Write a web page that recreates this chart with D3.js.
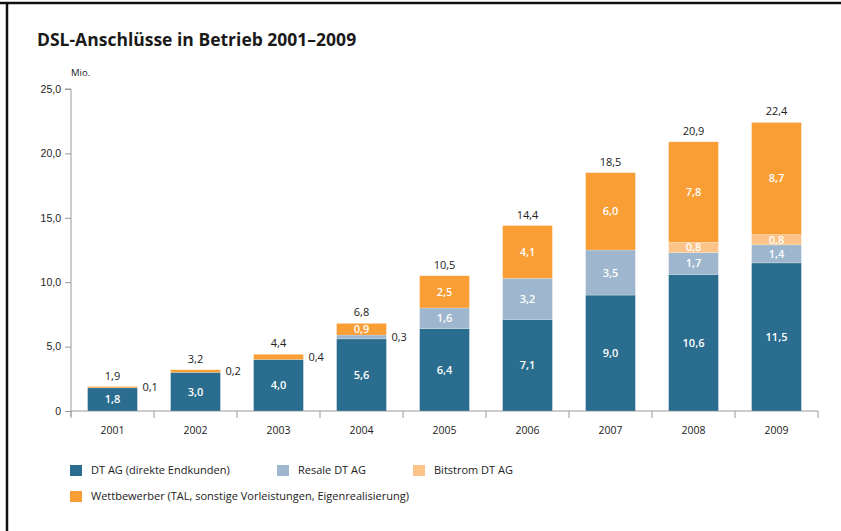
<!DOCTYPE html>
<html><head><meta charset="utf-8">
<script src="https://cdn.jsdelivr.net/npm/d3@7"></script>
<style>
html,body{margin:0;padding:0;background:#fff;}
svg{display:block;font-family:"Open Sans","Noto Sans",sans-serif;}
</style></head>
<body><svg id="c" width="841" height="531"></svg>
<script>
const years = ["2001","2002","2003","2004","2005","2006","2007","2008","2009"];
const dtag = [1.8,3.0,4.0,5.6,6.4,7.1,9.0,10.6,11.5];
const resale = [0,0,0,0.3,1.6,3.2,3.5,1.7,1.4];
const bitstrom = [0,0,0,0,0,0,0,0.8,0.8];
const wettbewerber = [0.1,0.2,0.4,0.9,2.5,4.1,6.0,7.8,8.7];
const totals = [1.9,3.2,4.4,6.8,10.5,14.4,18.5,20.9,22.4];
const seriesNames = ["DT AG (direkte Endkunden)","Resale DT AG","Bitstrom DT AG","Wettbewerber (TAL, sonstige Vorleistungen, Eigenrealisierung)"];
const seriesKeys = ["dtag","resale","bitstrom","wett"];
const colors = ["#2a6d8e","#9eb7ce","#fdc48a","#f99d35"];
const yTicks = [0,5,10,15,20,25];

const fmt = v => v===0 ? "0" : d3.format(".1f")(v).replace(".",",");
const svg = d3.select("#c");

// frame
svg.append("line").attr("x1",0).attr("x2",841).attr("y1",3).attr("y2",3).attr("stroke","#111").attr("stroke-width",2.5);
svg.append("line").attr("x1",7).attr("x2",7).attr("y1",2).attr("y2",531).attr("stroke","#111").attr("stroke-width",2.5);

svg.append("text").attr("x",37).attr("y",46).attr("font-size",17.5).attr("font-weight","bold").attr("fill","#1a1a1a")
  .text("DSL-Anschlüsse in Betrieb 2001–2009");

const x0 = 71, x1 = 818, yTop = 89, yBot = 411;
const x = d3.scaleBand().domain(years).range([x0,x1]).paddingInner(0.4).paddingOuter(0.2);
const y = d3.scaleLinear().domain([0,25]).range([yBot,yTop]);

const data = years.map((yr,i)=>({year:yr,dtag:dtag[i],resale:resale[i],bitstrom:bitstrom[i],wett:wettbewerber[i],total:totals[i]}));
const stack = d3.stack().keys(seriesKeys)(data);

// y axis
const yAxis = d3.axisLeft(y).tickValues(yTicks).tickSize(6).tickFormat(fmt);
const gy = svg.append("g").attr("transform",`translate(${x0},0)`).call(yAxis);
gy.select(".domain").attr("stroke","#9a9a9a").attr("d",`M-6,${yTop}H0V${yBot+5}`);
gy.selectAll(".tick line").attr("stroke","#9a9a9a");
gy.selectAll(".tick text").attr("font-size",10.5).attr("fill","#222").attr("x",-10);

svg.append("text").attr("x",71).attr("y",76).attr("font-size",9.5).attr("fill","#222").text("Mio.");

// x axis
const gx = svg.append("g").attr("transform",`translate(0,${yBot})`);
gx.append("line").attr("x1",x0).attr("x2",x1).attr("stroke","#9a9a9a");
const bounds = d3.range(years.length+1).map(i=>x0+i*(x1-x0)/years.length);
gx.selectAll("line.tk").data(bounds).join("line").attr("class","tk")
  .attr("x1",d=>d).attr("x2",d=>d).attr("y1",0).attr("y2",7).attr("stroke","#9a9a9a");
gx.selectAll("text").data(years).join("text")
  .attr("x",d=>x(d)+x.bandwidth()/2).attr("y",23).attr("text-anchor","middle")
  .attr("font-size",10.5).attr("fill","#222").text(d=>d);

// bars
stack.forEach((s,si)=>{
  svg.append("g").selectAll("rect").data(s.filter(d=>d[1]-d[0]>0)).join("rect")
    .attr("x",d=>x(d.data.year)).attr("width",x.bandwidth())
    .attr("y",d=>y(d[1])).attr("height",d=>y(d[0])-y(d[1]))
    .attr("fill",colors[si]).attr("stroke","rgba(255,255,255,0.35)").attr("stroke-width",0.6);
});

// segment labels
stack.forEach((s,si)=>{
  s.forEach(d=>{
    const v = d[1]-d[0];
    if (v<=0) return;
    const h = y(d[0])-y(d[1]);
    const cy = (y(d[0])+y(d[1]))/2;
    const cx = x(d.data.year)+x.bandwidth()/2;
    if (h>=9) {
      svg.append("text").attr("x",cx).attr("y",cy).attr("dy","0.36em").attr("text-anchor","middle")
        .attr("font-size",11).attr("font-weight",600).attr("fill","#fff").text(fmt(+v.toFixed(1)));
    } else {
      svg.append("text").attr("x",x(d.data.year)+x.bandwidth()+5).attr("y",cy).attr("dy","0.36em")
        .attr("font-size",11).attr("fill","#222").text(fmt(+v.toFixed(1)));
    }
  });
});

// totals
svg.append("g").selectAll("text").data(data).join("text")
  .attr("x",d=>x(d.year)+x.bandwidth()/2).attr("y",d=>y(d.total)-7)
  .attr("text-anchor","middle").attr("font-size",11).attr("fill","#222").text(d=>fmt(d.total));

// legend
const legPos = [[70,470.5],[277,470.5],[413,470.5],[70,496.5]];
seriesNames.forEach((n,i)=>{
  const [lx,ly] = legPos[i];
  svg.append("rect").attr("x",lx).attr("y",ly-5.5).attr("width",12).attr("height",11).attr("fill",colors[i]);
  svg.append("text").attr("x",lx+21).attr("y",ly).attr("dy","0.35em").attr("font-size",11)
    .attr("fill","#222").text(n);
});
</script></body></html>
